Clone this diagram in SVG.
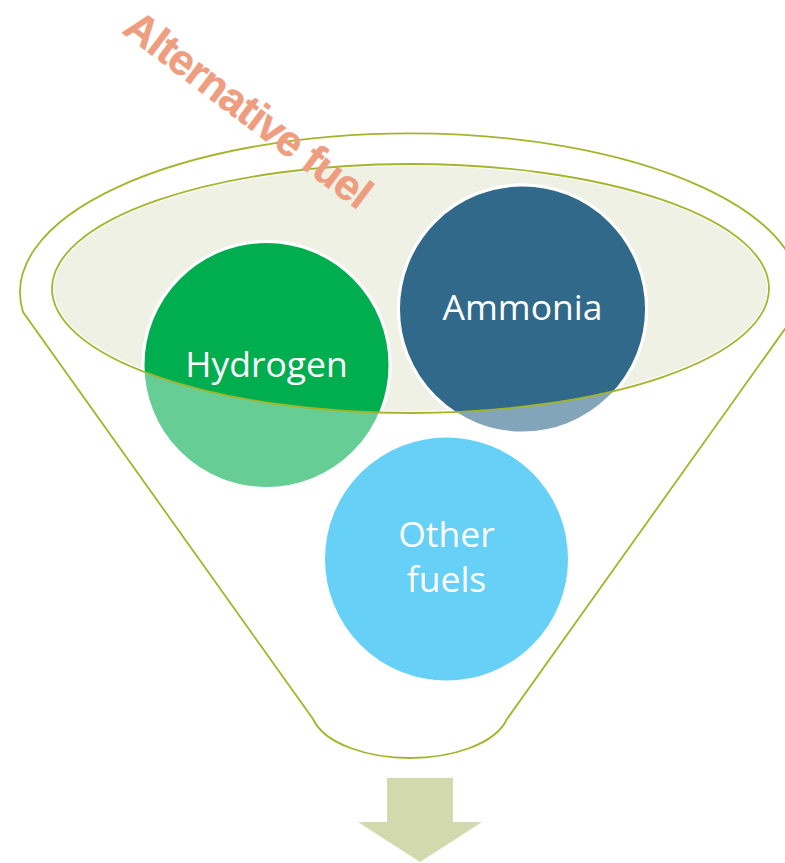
<svg xmlns="http://www.w3.org/2000/svg" width="785" height="863" viewBox="0 0 785 863">
<style>
.rim{fill:none;stroke:#A2B52B;stroke-width:1.8}
.lbl{font-family:"Open Sans","Noto Sans",sans-serif;font-size:35.5px;fill:#FFFFFF;text-anchor:middle}
.ring{stroke:#FFFFFF;stroke-width:3}
.title{font-family:"Liberation Sans",Arial,sans-serif;font-weight:bold;font-size:43px;fill:#EE9D7F;stroke:#EE9D7F;stroke-width:0.5}
</style>
<defs>
<clipPath id="inEll"><ellipse cx="410.5" cy="288.5" rx="358.5" ry="124.5"/></clipPath>
</defs>
<rect width="785" height="863" fill="#FFFFFF"/>
<g id="funnel">
<path class="rim" d="M 23 312 A 390 159 0 1 1 797 312 L 507 719 C 495 745 450 758 410 758 C 370 758 325 745 313 719 Z"/>
<ellipse cx="410.5" cy="288.5" rx="358.5" ry="124.5" fill="#EFF1E5" stroke="#FFFFFF" stroke-width="4"/>
</g>
<g id="hydrogen">
<circle class="ring" cx="266.5" cy="365" r="123.5" fill="#00AE4F" fill-opacity="0.6"/>
<circle class="ring" cx="266.5" cy="365" r="123.5" fill="#00AE4F" clip-path="url(#inEll)"/>
</g>
<g id="ammonia">
<circle class="ring" cx="522.5" cy="309" r="124" fill="#31698A" fill-opacity="0.6"/>
<circle class="ring" cx="522.5" cy="309" r="124" fill="#31698A" clip-path="url(#inEll)"/>
</g>
<g id="other-fuels">
<circle class="ring" cx="446.5" cy="559" r="123" fill="#00B0F0" fill-opacity="0.6"/>
</g>
<ellipse class="rim" cx="410.5" cy="288.5" rx="358.5" ry="124.5"/>
<g id="labels">
<text class="lbl" x="266.5" y="377">Hydrogen</text>
<text class="lbl" x="522.5" y="320">Ammonia</text>
<text class="lbl" x="446.5" y="547">Other</text>
<text class="lbl" x="446.5" y="592">fuels</text>
</g>
<g id="arrow">
<path d="M 387 778 L 453 778 L 453 822 L 482 822 L 420 862 L 358 822 L 387 822 Z" fill="#D2D9AC"/>
</g>
<g id="connectors"></g>
<text id="title" class="title" transform="translate(121 32) rotate(37)" x="0" y="0" textLength="297" lengthAdjust="spacing">Alternative fuel</text>
</svg>
